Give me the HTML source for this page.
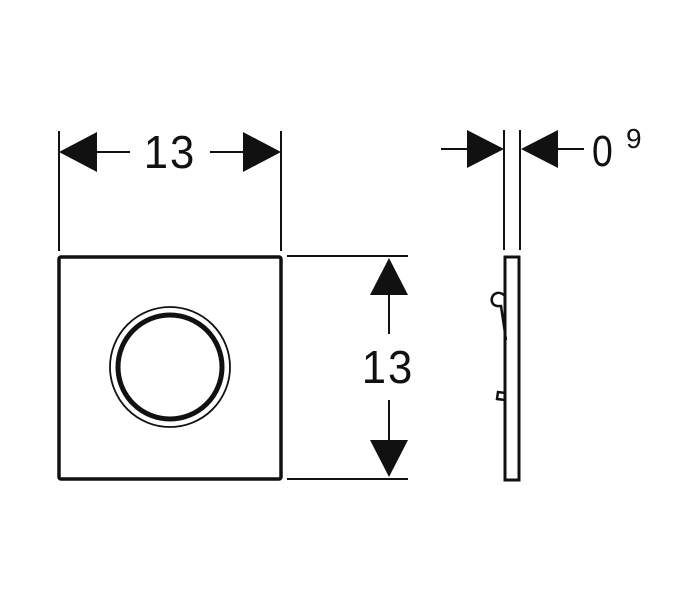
<!DOCTYPE html>
<html><head><style>html,body{margin:0;padding:0;background:#fff}</style></head>
<body>
<svg width="700" height="600" viewBox="0 0 700 600" xmlns="http://www.w3.org/2000/svg">
<g stroke="#111" fill="none" stroke-width="2">
<line x1="59" y1="131" x2="59" y2="251"/>
<line x1="281" y1="131" x2="281" y2="251"/>
<line x1="95" y1="152" x2="130" y2="152"/>
<line x1="210" y1="152" x2="245" y2="152"/>
<line x1="287" y1="256" x2="408" y2="256"/>
<line x1="287" y1="479" x2="408" y2="479"/>
<line x1="389" y1="292" x2="389" y2="334"/>
<line x1="389" y1="400" x2="389" y2="442"/>
<rect x="59" y="257" width="222" height="222" rx="2" stroke-width="3.5"/>
<circle cx="170" cy="367" r="60" stroke-width="1.8"/>
<circle cx="170" cy="367" r="52" stroke-width="5"/>
<line x1="504" y1="130" x2="504" y2="250"/>
<line x1="520" y1="130" x2="520" y2="250"/>
<line x1="441" y1="149" x2="470" y2="149"/>
<line x1="555" y1="149" x2="584" y2="149"/>
<rect x="505" y="257" width="14" height="223" stroke-width="3"/>
<path d="M505 296 C498 289 490 295 492 302 C494 307 499 306 501 306 L506 340" stroke-width="2.5"/>
<path d="M505 393 L498 392 L497 399 L505 400" stroke-width="2.5"/>
</g>
<g fill="#111">
<polygon points="59,152 97,132 97,172"/>
<polygon points="281,152 243,132 243,172"/>
<polygon points="389,258 370,295 408,295"/>
<polygon points="389,477 370,440 408,440"/>
<polygon points="504,149 467,130 467,168"/>
<polygon points="521,149 558,130 558,168"/>
</g>
<g font-family="Liberation Sans, sans-serif" fill="#111">
<text x="170" y="168" font-size="46" text-anchor="middle" letter-spacing="2" transform="translate(170 0) scale(0.95 1) translate(-170 0)">13</text>
<text x="388" y="383" font-size="46" text-anchor="middle" letter-spacing="2" transform="translate(388 0) scale(0.95 1) translate(-388 0)">13</text>
<text x="592" y="166" font-size="44" transform="translate(592 0) scale(0.85 1) translate(-592 0)">0</text>
<text x="626" y="148" font-size="28">9</text>
</g>
</svg>
</body></html>
